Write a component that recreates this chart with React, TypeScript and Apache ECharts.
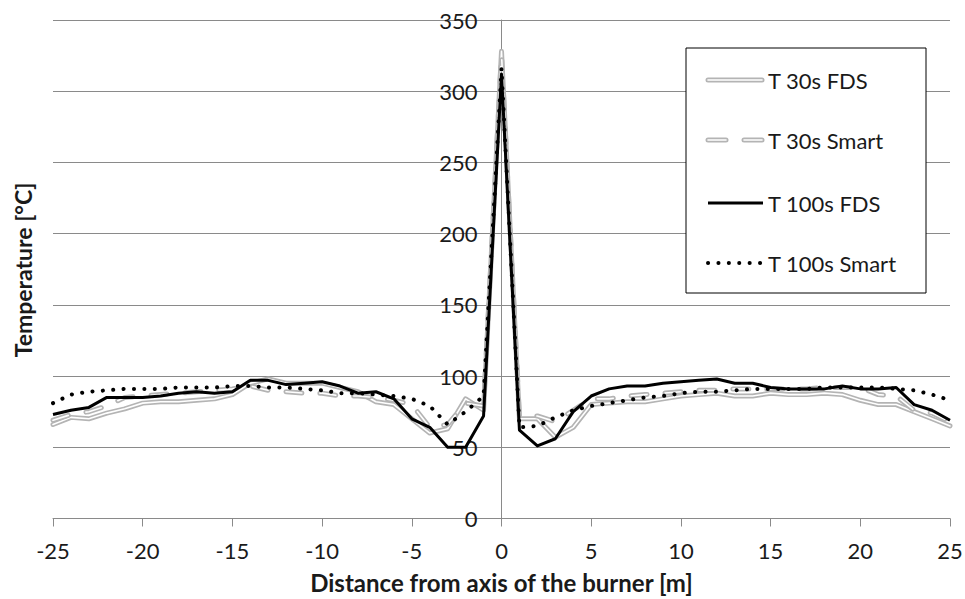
import React, { useEffect, useRef } from "react";
import * as echarts from "echarts";

const distances = [
  -25, -24, -23, -22, -21, -20, -19, -18, -17, -16, -15, -14, -13, -12, -11, -10, -9, -8, -7, -6, -5, -4, -3, -2, -1,
  0, 1, 2, 3, 4, 5, 6, 7, 8, 9, 10, 11, 12, 13, 14, 15, 16, 17, 18, 19, 20, 21, 22, 23, 24, 25,
];

const t30FDS = [
  66, 71, 70, 74, 77, 81, 82, 82, 83, 84, 87, 95, 98, 95, 95, 95, 92, 89, 82, 80, 70, 60, 63, 84, 76,
  328, 70, 70, 57, 64, 80, 81, 82, 82, 84, 86, 87, 88, 86, 86, 88, 87, 87, 88, 87, 83, 80, 80, 75, 70, 65,
];

const t30Smart = [
  69, 73, 75, 79, 85, 86, 87, 88, 89, 90, 91, 93, 90, 89, 88, 88, 86, 86, 85, 83, 80, 64, 66, 81, 79,
  326, 72, 72, 68, 76, 84, 84, 86, 87, 88, 89, 90, 90, 91, 91, 91, 91, 91, 92, 92, 92, 87, 86, 76, 74, 68,
];

const t100FDS = [
  73, 76, 78, 85, 85, 85, 86, 88, 89, 88, 89, 97, 97, 94, 95, 96, 93, 88, 89, 84, 70, 64, 50, 50, 72,
  312, 62, 51, 56, 75, 86, 91, 93, 93, 95, 96, 97, 98, 95, 95, 92, 91, 91, 91, 93, 91, 91, 92, 80, 76, 69,
];

const t100Smart = [
  81, 87, 89, 90, 91, 91, 91, 92, 92, 92, 93, 93, 92, 92, 91, 90, 88, 88, 87, 86, 84, 79, 66, 75, 86,
  316, 64, 65, 71, 76, 79, 81, 83, 85, 86, 88, 89, 89, 90, 91, 91, 91, 91, 92, 92, 92, 92, 91, 90, 87, 83,
];

const seriesNames = ["T 30s FDS", "T 30s Smart", "T 100s FDS", "T 100s Smart"];
const xTitle = "Distance from axis of the burner [m]";
const yTitle = "Temperature [°C]";

const FONT = "Lato, 'Open Sans', sans-serif";
const TEXT = "#1a1a1a";
const GRID = "#8a8a8a";
const GREY = "#b4b4b4";
const SMART_DASH = [16, 18];
const DOT_DASH = [0.1, 10.3];

const GRID_LEFT = 53;
const GRID_RIGHT = 15;
const CHART_W = 965;

const pairs = (vals: number[]) => distances.map((d, i) => [d, vals[i]]);

export default function App() {
  const ref = useRef<HTMLDivElement>(null);

  useEffect(() => {
    if (!ref.current) return;
    const chart = echarts.init(ref.current, null, { renderer: "svg" });

    const lineBase = {
      type: "line" as const,
      showSymbol: false,
      symbol: "none",
      silent: true,
      smooth: false,
    };

    const xMin = distances[0];
    const xMax = distances[distances.length - 1];
    const plotW = CHART_W - GRID_LEFT - GRID_RIGHT;
    const yAxisOffset = -((0 - xMin) / (xMax - xMin)) * plotW;

    const legendX1 = 708;
    const legendX2 = 762;
    const legendYs = [80, 140, 203, 263];

    const legendGraphics: any[] = [
      {
        type: "rect",
        shape: { x: 686, y: 48, width: 240, height: 245 },
        style: { fill: "#ffffff", stroke: "#000000", lineWidth: 1 },
        z: 10,
      },
      {
        type: "line",
        shape: { x1: legendX1, y1: legendYs[0], x2: legendX2, y2: legendYs[0] },
        style: { stroke: GREY, lineWidth: 5, lineCap: "round" },
        z: 11,
      },
      {
        type: "line",
        shape: { x1: legendX1, y1: legendYs[0], x2: legendX2, y2: legendYs[0] },
        style: { stroke: "#ffffff", lineWidth: 1.6, lineCap: "round" },
        z: 12,
      },
      {
        type: "line",
        shape: { x1: legendX1, y1: legendYs[1], x2: 726, y2: legendYs[1] },
        style: { stroke: GREY, lineWidth: 5, lineCap: "round" },
        z: 11,
      },
      {
        type: "line",
        shape: { x1: legendX1, y1: legendYs[1], x2: 726, y2: legendYs[1] },
        style: { stroke: "#ffffff", lineWidth: 1.6, lineCap: "round" },
        z: 12,
      },
      {
        type: "line",
        shape: { x1: 744, y1: legendYs[1], x2: legendX2, y2: legendYs[1] },
        style: { stroke: GREY, lineWidth: 5, lineCap: "round" },
        z: 11,
      },
      {
        type: "line",
        shape: { x1: 744, y1: legendYs[1], x2: legendX2, y2: legendYs[1] },
        style: { stroke: "#ffffff", lineWidth: 1.6, lineCap: "round" },
        z: 12,
      },
      {
        type: "line",
        shape: { x1: legendX1, y1: legendYs[2], x2: legendX2 + 1, y2: legendYs[2] },
        style: { stroke: "#000000", lineWidth: 3 },
        z: 11,
      },
      {
        type: "line",
        shape: { x1: legendX1, y1: legendYs[3], x2: legendX2, y2: legendYs[3] },
        style: { stroke: "#000000", lineWidth: 4, lineCap: "round", lineDash: DOT_DASH },
        z: 11,
      },
      ...seriesNames.map((name, i) => ({
        type: "text",
        x: 768,
        y: legendYs[i],
        style: {
          text: name,
          fontFamily: FONT,
          fontSize: 22,
          fill: TEXT,
          align: "left",
          verticalAlign: "middle",
        },
        z: 12,
      })),
      {
        type: "text",
        x: 23,
        y: 270,
        rotation: Math.PI / 2,
        style: {
          text: yTitle,
          fontFamily: FONT,
          fontSize: 23,
          fontWeight: "bold",
          fill: TEXT,
          align: "center",
          verticalAlign: "middle",
        },
      },
    ];

    chart.setOption({
      animation: false,
      backgroundColor: "#ffffff",
      grid: {
        left: GRID_LEFT,
        right: GRID_RIGHT,
        top: 20,
        bottom: 80.5,
        containLabel: false,
        outerBoundsMode: "none",
      },
      xAxis: {
        type: "value",
        min: -25,
        max: 25,
        interval: 5,
        name: xTitle,
        nameLocation: "middle",
        nameGap: 52,
        nameTextStyle: { fontFamily: FONT, fontSize: 24, fontWeight: "bold", color: TEXT },
        axisLine: { show: true, onZero: false, lineStyle: { color: GRID, width: 1 } },
        axisTick: { show: true, length: 8, inside: false, lineStyle: { color: GRID, width: 1 } },
        axisLabel: { fontFamily: FONT, fontSize: 22, color: TEXT, margin: 21 },
        splitLine: { show: false },
      },
      yAxis: {
        type: "value",
        min: 0,
        max: 350,
        interval: 50,
        position: "left",
        offset: yAxisOffset,
        axisLine: { show: true, onZero: false, lineStyle: { color: GRID, width: 1 } },
        axisTick: { show: false },
        axisLabel: { fontFamily: FONT, fontSize: 22, color: TEXT, margin: 24 },
        splitLine: { show: true, lineStyle: { color: GRID, width: 1 } },
      },
      series: [
        {
          ...lineBase,
          name: seriesNames[0],
          data: pairs(t30FDS),
          lineStyle: { color: GREY, width: 5, cap: "round", join: "round" },
          z: 2,
        },
        {
          ...lineBase,
          name: seriesNames[0] + " inner",
          data: pairs(t30FDS),
          lineStyle: { color: "#ffffff", width: 1.6, cap: "round", join: "round" },
          z: 3,
        },
        {
          ...lineBase,
          name: seriesNames[1],
          data: pairs(t30Smart),
          lineStyle: { color: GREY, width: 5, type: SMART_DASH, cap: "round", join: "round" },
          z: 4,
        },
        {
          ...lineBase,
          name: seriesNames[1] + " inner",
          data: pairs(t30Smart),
          lineStyle: { color: "#ffffff", width: 1.6, type: SMART_DASH, cap: "round", join: "round" },
          z: 5,
        },
        {
          ...lineBase,
          name: seriesNames[2],
          data: pairs(t100FDS),
          lineStyle: { color: "#000000", width: 3, join: "round" },
          z: 6,
        },
        {
          ...lineBase,
          name: seriesNames[3],
          data: pairs(t100Smart),
          lineStyle: { color: "#000000", width: 4, type: DOT_DASH, cap: "round", join: "round" },
          z: 7,
        },
      ],
      graphic: legendGraphics,
    });

    return () => {
      chart.dispose();
    };
  }, []);

  return (
    <div
      ref={ref}
      style={{ position: "fixed", left: 0, top: 0, width: 965, height: 599, background: "#fff" }}
    />
  );
}
